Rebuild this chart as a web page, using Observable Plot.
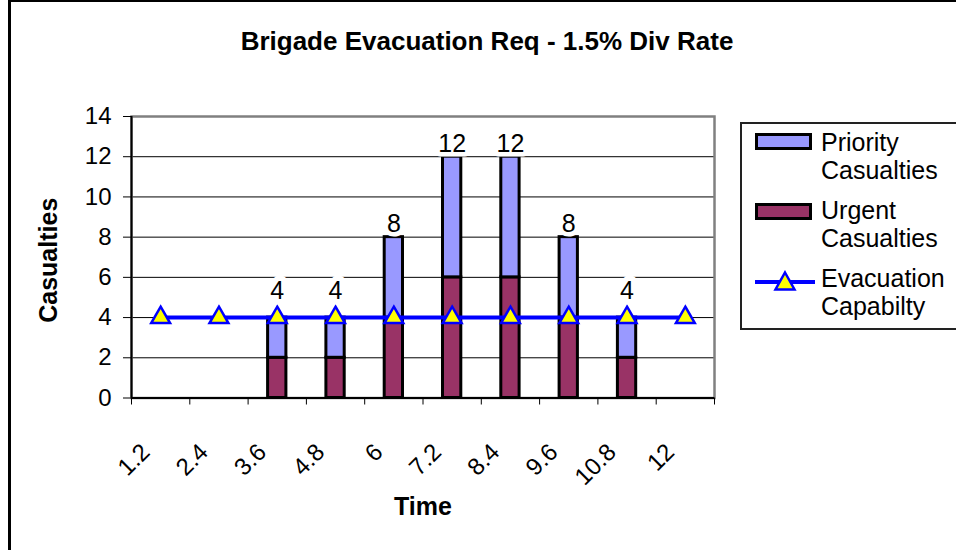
<!DOCTYPE html>
<html><head><meta charset="utf-8">
<script src="https://cdn.jsdelivr.net/npm/d3@7"></script>
<script src="https://cdn.jsdelivr.net/npm/@observablehq/plot@0.6"></script>
<style>
body{margin:0;background:#fff;font-family:"Liberation Sans",Arial,sans-serif;}
#wrap{position:relative;width:956px;height:550px;overflow:hidden;background:#fff;}
#chart{position:absolute;left:0;top:0;}
#chart g[aria-label="x-axis tick label"]{font-size:24px}
#chart g[aria-label="y-axis tick label"]{font-size:24px}
#frame{position:absolute;left:8px;top:0;width:1200px;height:900px;border-left:3px solid #000;border-top:2px solid #000;box-sizing:border-box;pointer-events:none}
#title{position:absolute;left:0;width:974px;top:26px;text-align:center;font-weight:bold;font-size:26px;line-height:30px;color:#000}
#legend{position:absolute;left:740px;top:122px;width:260px;height:208px;border:2px solid #222;box-sizing:border-box;background:#fff}
.sw{position:absolute;left:13px;width:57px;height:17px;border:3px solid #000;box-sizing:border-box}
.lt{position:absolute;left:79px;font-size:25px;line-height:28px;color:#000;white-space:nowrap}
#lsvg{position:absolute;left:13px;top:146px}
</style></head>
<body>
<div id="wrap">
  <div id="chart"></div>
  <div id="frame"></div>
  <div id="title"></div>
  <div id="legend"></div>
</div>
<script>
const chartTitle = "Brigade Evacuation Req - 1.5% Div Rate";
const timeLabels = ["1.2","2.4","3.6","4.8","6","7.2","8.4","9.6","10.8","12"];
const urgent     = [0, 0, 2, 2, 4, 6, 6, 4, 2, 0];
const priority   = [0, 0, 2, 2, 4, 6, 6, 4, 2, 0];
const capability = [4, 4, 4, 4, 4, 4, 4, 4, 4, 4];
const yTicks = [0, 2, 4, 6, 8, 10, 12, 14];
const seriesNames = ["Urgent Casualties", "Priority Casualties"];
const seriesColors = ["#993366", "#9999FF"];
const lineName = "Evacuation Capabilty";
const lineColor = "#0000FF";
const markerColor = "#FFFF00";

const pos = timeLabels.map((_, i) => i + 1);
const rows = [];
timeLabels.forEach((t, i) => {
  rows.push({pos: i + 1, series: seriesNames[0], value: urgent[i]});
  rows.push({pos: i + 1, series: seriesNames[1], value: priority[i]});
});
const bars = rows.filter(d => d.value > 0);
const totals = timeLabels.map((t, i) => ({pos: i + 1, total: urgent[i] + priority[i], cap: capability[i]})).filter(d => d.total > 0);
const capRows = timeLabels.map((t, i) => ({pos: i + 1, cap: capability[i]}));
const bounds = [...pos.map(p => p - 0.5), pos.length + 0.5];
const font = '"Liberation Sans", Arial, sans-serif';

const chart = Plot.plot({
  width: 956, height: 550,
  marginLeft: 131, marginRight: 242, marginTop: 116, marginBottom: 152.5,
  x: {type: "linear", domain: [0.5, pos.length + 0.5]},
  y: {domain: [0, 14]},
  color: {domain: seriesNames, range: seriesColors},
  style: {fontFamily: font, fontSize: "24px", color: "#000", background: "transparent", overflow: "visible"},
  marks: [
    Plot.ruleY(yTicks.filter(v => v > 0 && v < 14), {stroke: "#000", strokeWidth: 1}),
    Plot.frame({stroke: "#808080", strokeWidth: 2.5}),
    Plot.rectY(bars, Plot.stackY({
      x1: d => d.pos - 0.5, x2: d => d.pos + 0.5, y: "value", fill: "series",
      order: seriesNames, stroke: "#000", strokeWidth: 3, insetLeft: 20, insetRight: 20
    })),
    Plot.ruleX([0.5], {stroke: "#000", strokeWidth: 2}),
    Plot.ruleY([0], {stroke: "#000", strokeWidth: 2}),
    Plot.axisY(yTicks, {tickSize: 8, tickPadding: 12, label: null, stroke: "#000"}),
    Plot.axisX(bounds, {tickSize: 7, tickFormat: () => "", label: null, stroke: "#000"}),
    Plot.axisX(pos, {tickSize: 0, tickRotate: -45, tickPadding: 50, dx: -15, textAnchor: "end",
      tickFormat: p => timeLabels[p - 1], label: null}),
    Plot.line(capRows, {x: "pos", y: "cap", stroke: lineColor, strokeWidth: 4}),
    Plot.dot(capRows, {x: "pos", y: "cap", symbol: "triangle", r: 7, fill: markerColor, stroke: lineColor, strokeWidth: 2.5}),
    Plot.text(totals.filter(d => d.total > d.cap), {x: "pos", y: "total", text: d => String(d.total), dy: -13,
      fontSize: 25, fill: "#000", stroke: "#fff", strokeWidth: 9, paintOrder: "stroke"}),
    Plot.text(totals.filter(d => d.total <= d.cap), {x: "pos", y: "total", text: d => String(d.total), dy: -27,
      fontSize: 25, fill: "#000", stroke: "#fff", strokeWidth: 11, paintOrder: "stroke"}),
    Plot.text(["Casualties"], {frameAnchor: "left", rotate: -90, dx: -83, dy: 3, textAnchor: "middle", lineAnchor: "middle",
      fontSize: 25, fontWeight: "bold", fill: "#000"}),
    Plot.text(["Time"], {frameAnchor: "bottom", dy: 109, textAnchor: "middle", lineAnchor: "middle",
      fontSize: 25, fontWeight: "bold", fill: "#000"})
  ]
});
document.getElementById("chart").appendChild(chart);
document.getElementById("title").textContent = chartTitle;

// legend
const lg = document.getElementById("legend");
const items = [
  {name: seriesNames[1], color: seriesColors[1], top: 9, textTop: 4},
  {name: seriesNames[0], color: seriesColors[0], top: 79, textTop: 72}
];
items.forEach(it => {
  const sw = document.createElement("div");
  sw.className = "sw"; sw.style.top = it.top + "px"; sw.style.background = it.color;
  lg.appendChild(sw);
  const t = document.createElement("div");
  t.className = "lt"; t.style.top = it.textTop + "px";
  t.innerHTML = it.name.split(" ").join("<br>");
  lg.appendChild(t);
});
const ls = document.createElementNS("http://www.w3.org/2000/svg", "svg");
ls.setAttribute("id", "lsvg"); ls.setAttribute("width", 62); ls.setAttribute("height", 24);
ls.innerHTML = `<line x1="0" y1="12" x2="60" y2="12" stroke="${lineColor}" stroke-width="4"/>
<path d="M30,2.5 L39.5,19.5 L20.5,19.5 Z" fill="${markerColor}" stroke="${lineColor}" stroke-width="2.5" stroke-linejoin="miter"/>`;
lg.appendChild(ls);
const lt = document.createElement("div");
lt.className = "lt"; lt.style.top = "140px";
lt.innerHTML = lineName.split(" ").join("<br>");
lg.appendChild(lt);
</script>
</body></html>
